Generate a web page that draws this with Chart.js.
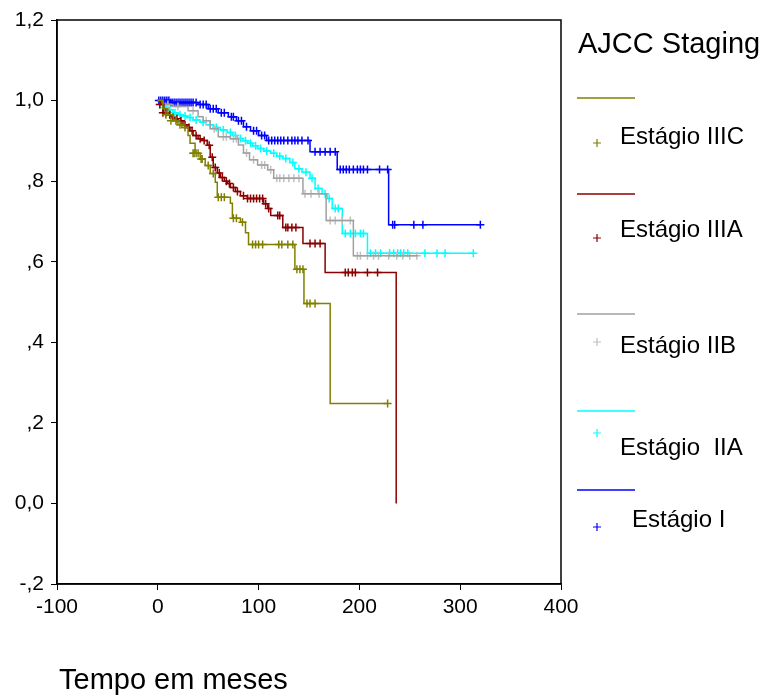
<!DOCTYPE html>
<html>
<head>
<meta charset="utf-8">
<script src="https://cdn.jsdelivr.net/npm/chart.js@4.4.0/dist/chart.umd.min.js"></script>
<style>
  html, body { margin: 0; padding: 0; background: #fff; }
  #wrap { width: 767px; height: 697px; }
</style>
</head>
<body>
<div id="wrap"><canvas id="chart" width="767" height="697"></canvas></div>
<script>
// Kaplan-Meier curves: step times and survival after each step
const xTickValues = [-100, 0, 100, 200, 300, 400];
const yTickValues = [-0.2, 0, 0.2, 0.4, 0.6, 0.8, 1.0, 1.2];
const yTickLabels = ["-,2", "0,0", ",2", ",4", ",6", ",8", "1,0", "1,2"];

const legendTitle = "AJCC Staging";
const legendLabels = ["Estágio IIIC", "Estágio IIIA", "Estágio IIB", "Estágio  IIA", "Estágio I"];

// Estágio IIIC
const iiicT = [0, 5, 10, 15.5, 20, 24, 30, 32, 37, 42, 47, 52, 57, 59, 72, 74, 82, 87, 90, 136, 145, 171, 228];
const iiicS = [1.0, 0.98, 0.965, 0.95, 0.94, 0.933, 0.913, 0.894, 0.869, 0.855, 0.839, 0.819, 0.797, 0.76, 0.745, 0.708, 0.698, 0.672, 0.643, 0.581, 0.496, 0.248, 0.248];
const iiicCensT = [8, 13, 18, 22, 27, 35, 36, 38, 40, 43, 44, 50, 55, 60, 63, 66, 75, 78, 84, 94, 97, 100, 104, 120, 123, 129, 134, 138, 141, 144, 148, 151, 156, 228];
const iiicCensS = [0.965, 0.95, 0.95, 0.94, 0.933, 0.869, 0.869, 0.869, 0.869, 0.855, 0.855, 0.839, 0.819, 0.76, 0.76, 0.76, 0.708, 0.708, 0.698, 0.643, 0.643, 0.643, 0.643, 0.643, 0.643, 0.643, 0.643, 0.581, 0.581, 0.581, 0.496, 0.496, 0.496, 0.248];

// Estágio IIIA
const iiiaT = [0, 3, 6, 10, 13, 17, 20, 25, 29, 32, 35, 40, 44, 49, 52, 55, 59, 62, 66, 69, 72, 77, 82, 89, 105, 109, 112, 124, 144, 166, 236.5];
const iiiaS = [1.0, 0.99, 0.97, 0.965, 0.958, 0.955, 0.95, 0.94, 0.933, 0.925, 0.913, 0.905, 0.901, 0.889, 0.859, 0.834, 0.82, 0.809, 0.80, 0.794, 0.784, 0.774, 0.764, 0.757, 0.744, 0.732, 0.715, 0.685, 0.645, 0.573, 0.0];
const iiiaCensT = [2, 5, 8, 12, 15, 19, 23, 27, 31, 34, 38, 42, 46, 51, 54, 57, 61, 64, 68, 71, 75, 79, 85, 89, 92, 95, 98, 101, 104, 107, 110, 119, 121, 127, 129, 133, 137, 151, 156, 161, 186, 189, 193, 196, 208, 218];
const iiiaCensS = [0.99, 0.97, 0.97, 0.965, 0.958, 0.955, 0.95, 0.94, 0.933, 0.925, 0.913, 0.905, 0.901, 0.889, 0.859, 0.834, 0.82, 0.809, 0.80, 0.794, 0.784, 0.774, 0.764, 0.757, 0.757, 0.757, 0.757, 0.757, 0.757, 0.744, 0.732, 0.715, 0.715, 0.685, 0.685, 0.685, 0.685, 0.645, 0.645, 0.645, 0.573, 0.573, 0.573, 0.573, 0.573, 0.573];

// Estágio IIB
const iibT = [0, 5, 15, 30, 40, 45, 52, 60, 72, 80, 85, 91, 99, 109, 115, 144, 167, 194, 258];
const iibS = [1.0, 0.99, 0.985, 0.975, 0.96, 0.95, 0.93, 0.91, 0.905, 0.89, 0.87, 0.853, 0.84, 0.828, 0.807, 0.769, 0.702, 0.615, 0.615];
const iibCensT = [10, 20, 35, 48, 56, 65, 68, 75, 78, 88, 95, 103, 106, 112, 118, 121, 125, 130, 135, 140, 146, 152, 160, 171, 176, 183, 191, 198, 201, 208, 214, 219, 229, 237, 243, 250, 257];
const iibCensS = [0.99, 0.985, 0.975, 0.95, 0.93, 0.91, 0.91, 0.905, 0.905, 0.87, 0.853, 0.84, 0.84, 0.828, 0.807, 0.807, 0.807, 0.807, 0.807, 0.807, 0.769, 0.769, 0.769, 0.702, 0.702, 0.702, 0.702, 0.615, 0.615, 0.615, 0.615, 0.615, 0.615, 0.615, 0.615, 0.615, 0.615];

// Estágio IIA
const iiaT = [0, 3, 6, 10, 15, 20, 25, 29, 35, 42, 48, 55, 62, 69, 74, 79, 84, 89, 94, 99, 105, 112, 118, 124, 131, 136, 143, 151, 156, 163, 168, 173, 183, 208, 314];
const iiaS = [1.0, 0.99, 0.983, 0.977, 0.97, 0.965, 0.962, 0.958, 0.952, 0.946, 0.94, 0.933, 0.927, 0.921, 0.913, 0.906, 0.9, 0.894, 0.888, 0.881, 0.875, 0.869, 0.862, 0.856, 0.846, 0.831, 0.822, 0.807, 0.782, 0.769, 0.757, 0.732, 0.670, 0.621, 0.621];
const iiaCensT = [2, 5, 8, 12, 17, 22, 27, 32, 38, 45, 52, 58, 65, 72, 77, 82, 87, 92, 97, 102, 108, 115, 121, 127, 134, 140, 147, 153, 159, 166, 170, 176, 179, 186, 191, 196, 201, 204, 211, 216, 221, 230, 234, 238, 241, 244, 248, 265, 277, 285, 313];
const iiaCensS = [0.99, 0.983, 0.983, 0.977, 0.97, 0.965, 0.962, 0.958, 0.952, 0.946, 0.94, 0.933, 0.927, 0.921, 0.913, 0.906, 0.9, 0.894, 0.888, 0.881, 0.875, 0.869, 0.862, 0.856, 0.846, 0.831, 0.822, 0.807, 0.782, 0.769, 0.757, 0.732, 0.732, 0.670, 0.670, 0.670, 0.670, 0.670, 0.621, 0.621, 0.621, 0.621, 0.621, 0.621, 0.621, 0.621, 0.621, 0.621, 0.621, 0.621, 0.621];

// Estágio I
const iT = [0, 12, 40, 50, 60, 70, 78, 85, 92, 100, 108, 151, 178, 229, 320];
const iS = [1.0, 0.995, 0.99, 0.98, 0.97, 0.96, 0.95, 0.935, 0.925, 0.913, 0.901, 0.873, 0.829, 0.692, 0.692];
const iCensT = [1, 3, 5, 7, 9, 11, 13, 15, 17, 19, 21, 23, 25, 27, 29, 31, 33, 35, 38, 42, 45, 48, 52, 55, 58, 63, 66, 73, 75, 80, 83, 88, 95, 98, 103, 106, 110, 113, 116, 119, 122, 125, 129, 133, 136, 139, 143, 149, 156, 161, 166, 171, 176, 181, 184, 187, 190, 194, 198, 201, 204, 208, 220, 228, 233, 235, 254, 263, 320];
const iCensS = [1.0, 1.0, 1.0, 1.0, 1.0, 1.0, 0.995, 0.995, 0.995, 0.995, 0.995, 0.995, 0.995, 0.995, 0.995, 0.995, 0.995, 0.995, 0.995, 0.99, 0.99, 0.99, 0.98, 0.98, 0.98, 0.97, 0.97, 0.96, 0.96, 0.95, 0.95, 0.935, 0.925, 0.925, 0.913, 0.913, 0.901, 0.901, 0.901, 0.901, 0.901, 0.901, 0.901, 0.901, 0.901, 0.901, 0.901, 0.901, 0.873, 0.873, 0.873, 0.873, 0.873, 0.829, 0.829, 0.829, 0.829, 0.829, 0.829, 0.829, 0.829, 0.829, 0.829, 0.829, 0.692, 0.692, 0.692, 0.692, 0.692];

const lineColors = ["#808000", "#8b0000", "#a0a0a0", "#00ffff", "#0000ff"];
const crossColors = ["#808000", "#8b0000", "#c0c0c0", "#00ffff", "#0000ff"];

const FONT = "'Liberation Sans', Arial, sans-serif";

function pts(xs, ys) {
    return xs.map((x, i) => ({ x: x, y: ys[i] }));
}

const groups = [
    [iiicT, iiicS, iiicCensT, iiicCensS],
    [iiiaT, iiiaS, iiiaCensT, iiiaCensS],
    [iibT, iibS, iibCensT, iibCensS],
    [iiaT, iiaS, iiaCensT, iiaCensS],
    [iT, iS, iCensT, iCensS]
];

const datasets = [];
groups.forEach((g, k) => {
    datasets.push({
        type: "line",
        label: legendLabels[k],
        data: pts(g[0], g[1]),
        stepped: true,
        borderColor: lineColors[k],
        borderWidth: 1.5,
        pointRadius: 0,
        fill: false
    });
    datasets.push({
        type: "scatter",
        label: legendLabels[k] + " censored",
        data: pts(g[2], g[3]),
        showLine: false,
        pointStyle: "cross",
        pointRadius: 4,
        borderColor: crossColors[k],
        borderWidth: 1.5,
        pointHoverRadius: 4
    });
});

// frame around the plot, the side legend and the axis title
const decorations = {
    id: "decorations",
    afterDraw(chart) {
        const ctx = chart.ctx;
        const a = chart.chartArea;
        ctx.save();
        ctx.strokeStyle = "#000";
        ctx.lineWidth = 1.5;
        ctx.strokeRect(a.left, a.top, a.right - a.left, a.bottom - a.top);

        ctx.fillStyle = "#000";
        ctx.textBaseline = "middle";
        ctx.font = "29px " + FONT;
        ctx.fillText(legendTitle, 578, 45);

        const lineY = [98, 194, 314, 411, 490];
        const crossY = [143, 238, 342, 433, 527];
        const textY = [137, 230, 346, 448, 520];
        const textX = [620, 620, 620, 620, 632];
        legendLabels.forEach((lab, k) => {
            ctx.strokeStyle = lineColors[k];
            ctx.lineWidth = 1.5;
            ctx.beginPath();
            ctx.moveTo(577, lineY[k]);
            ctx.lineTo(635, lineY[k]);
            ctx.stroke();

            ctx.strokeStyle = crossColors[k];
            ctx.lineWidth = 1.2;
            ctx.beginPath();
            ctx.moveTo(593, crossY[k]);
            ctx.lineTo(601, crossY[k]);
            ctx.moveTo(597, crossY[k] - 4);
            ctx.lineTo(597, crossY[k] + 4);
            ctx.stroke();

            ctx.fillStyle = "#000";
            ctx.font = "24px " + FONT;
            ctx.fillText(lab, textX[k], textY[k]);
        });

        ctx.font = "29px " + FONT;
        ctx.fillText("Tempo em meses", 59, 681);
        ctx.restore();
    }
};

new Chart(document.getElementById("chart"), {
    data: { datasets: datasets },
    options: {
        responsive: false,
        animation: false,
        layout: { padding: { left: 0, right: 206, top: 20, bottom: 0 } },
        plugins: {
            legend: { display: false },
            tooltip: { enabled: false }
        },
        scales: {
            x: {
                type: "linear",
                min: -100,
                max: 400,
                afterFit(scale) { scale.height = 113; },
                afterBuildTicks(scale) {
                    scale.ticks = xTickValues.map(v => ({ value: v }));
                },
                grid: {
                    drawOnChartArea: false,
                    drawTicks: true,
                    tickLength: 6,
                    color: "#000",
                    lineWidth: 1
                },
                border: { display: true, color: "#000", width: 1.5 },
                ticks: {
                    color: "#000",
                    padding: 5,
                    maxRotation: 0,
                    font: { family: FONT, size: 21 },
                    callback: v => String(v)
                }
            },
            y: {
                type: "linear",
                min: -0.2,
                max: 1.2,
                afterFit(scale) { scale.width = 57; },
                afterBuildTicks(scale) {
                    scale.ticks = yTickValues.map(v => ({ value: v }));
                },
                grid: {
                    drawOnChartArea: false,
                    drawTicks: true,
                    tickLength: 6,
                    color: "#000",
                    lineWidth: 1
                },
                border: { display: true, color: "#000", width: 1.5 },
                ticks: {
                    color: "#000",
                    padding: 7,
                    font: { family: FONT, size: 21 },
                    callback: (v, i) => yTickLabels[i]
                }
            }
        }
    },
    plugins: [decorations]
});
</script>
</body>
</html>
